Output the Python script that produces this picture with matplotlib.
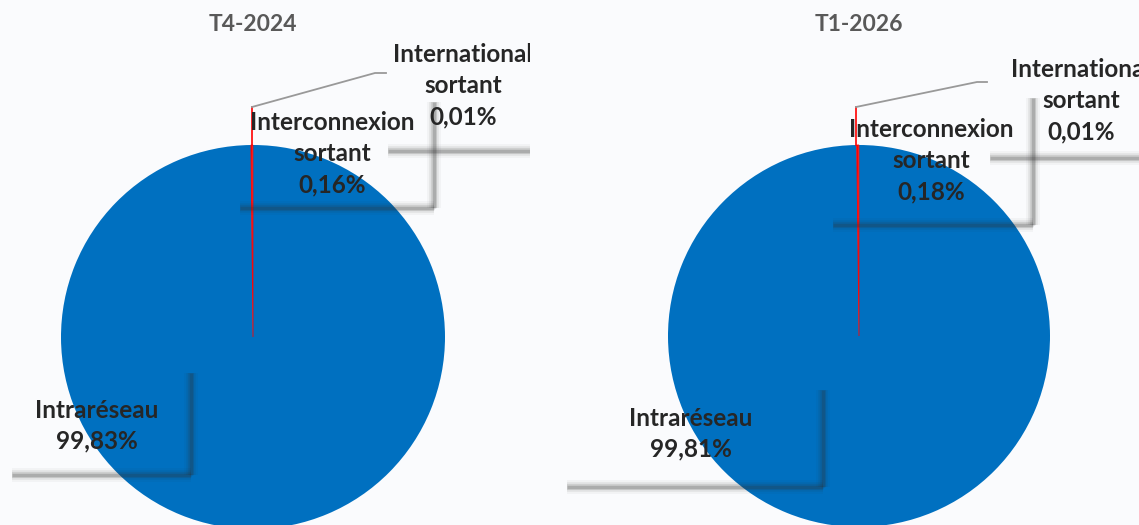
import matplotlib.pyplot as plt

plt.rcParams['font.family'] = ['Lato', 'DejaVu Sans']

# data
titles = ['T4-2024', 'T1-2026']
categories = ['Intraréseau', 'Interconnexion sortant', 'International sortant']
values_t4 = [99.83, 0.16, 0.01]
values_t1 = [99.81, 0.18, 0.01]
labels_t4 = ['99,83%', '0,16%', '0,01%']
labels_t1 = ['99,81%', '0,18%', '0,01%']
colors = ['#0070C0', '#FF0000', '#A5A5A5']

W, H = 1139, 525
fig = plt.figure(figsize=(W / 100, H / 100), dpi=100)
fig.patch.set_facecolor('#FAFBFD')

TXT = '#262626'


def shadow(ax, xs, ys):
    # soft drop shadow of a data-label box
    for lw, a in [(10, 0.04), (7, 0.07), (4.5, 0.12), (2.5, 0.22)]:
        ax.plot(xs, ys, color='#303030', lw=lw, alpha=a, solid_capstyle='butt', zorder=3)


def label(ax, x, y, lines, pitch=31):
    for i, s in enumerate(lines):
        ax.text(x, H - (y + i * pitch), s, ha='center', va='center', fontsize=17.5,
                fontweight='bold', color=TXT, clip_on=True, zorder=5)


def panel(rect, x0, x1, cx, cy, r, vals, pct, title, boxes, leader):
    ax = fig.add_axes(rect)
    ax.patch.set_alpha(0)
    wedges, _ = ax.pie(vals, colors=colors, startangle=90, counterclock=False,
                       center=(cx, H - cy), radius=r,
                       wedgeprops=dict(linewidth=0))
    wedges[1].set_edgecolor(colors[1])
    wedges[1].set_linewidth(0.6)
    ax.set_xlim(x0, x1)
    ax.set_ylim(0, H)
    ax.set_aspect('equal')
    ax.axis('off')

    ax.text(cx, H - 25, title, ha='center', va='center', fontsize=16.5,
            fontweight='bold', color='#595959')

    # leader line to "International sortant"
    (lx0, ly0), (lx1, ly1), (lx2, ly2) = leader
    ax.plot([lx0, lx0], [H - (cy - r), H - ly0], color=colors[1], lw=1.2, zorder=4)
    ax.plot([lx0, lx1, lx2], [H - ly0, H - ly1, H - ly2], color='#999999', lw=1.3, zorder=4)

    texts = [[categories[0], pct[0]],
             ['Interconnexion', 'sortant', pct[1]],
             ['International', 'sortant', pct[2]]]
    for (tx, ty, bl, br, bt, bb), lines in zip(boxes, texts):
        shadow(ax, [bl, br], [H - bb, H - bb])
        if bt is not None:
            shadow(ax, [br, br], [H - bt, H - bb])
        label(ax, tx, ty, lines)
    return ax


panel([0, 0, 530 / W, 1], 0, 530, 253, 337, 192, values_t4, labels_t4, titles[0],
      [(97, 410, 12, 191, 373, 475),
       (332, 123, 240, 434, 102, 208),
       (463, 55, 388, 560, None, 151)],
      [(252, 107), (375, 73), (386, 73)])

panel([530 / W, 0, (W - 530) / W, 1], 530, W, 859, 336, 191, values_t1, labels_t1, titles[1],
      [(691, 418, 567, 823, 390, 487),
       (931, 130, 833, 1033, 98, 225),
       (1081, 70, 990, 1160, None, 158)],
      [(856, 107), (977, 82), (987, 82)])

fig.savefig('out.png', dpi=100, facecolor=fig.get_facecolor())
